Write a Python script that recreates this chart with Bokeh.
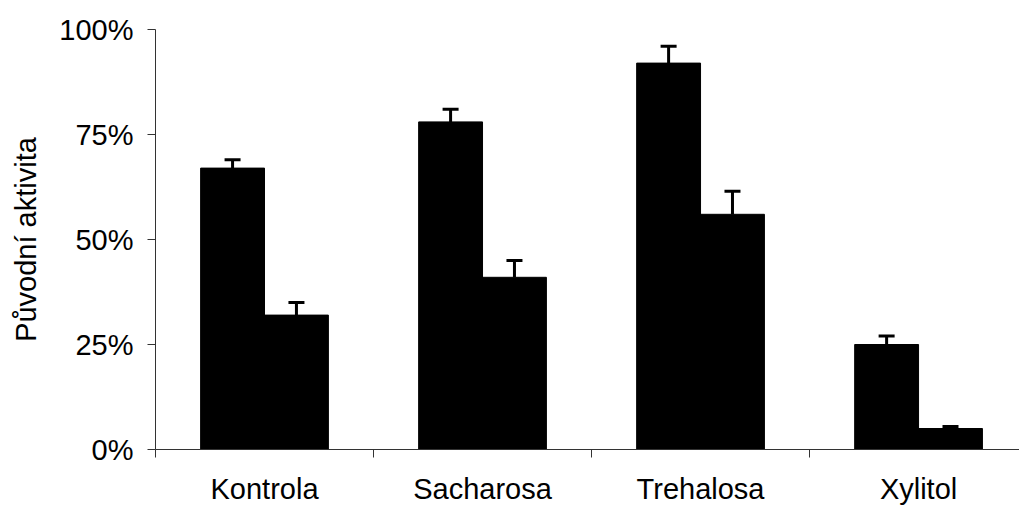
from bokeh.plotting import figure
from bokeh.models import ColumnDataSource, FixedTicker, Range1d, Whisker, TeeHead
from bokeh.embed import file_html
from bokeh.resources import INLINE

# Data
categories = ["Kontrola", "Sacharosa", "Trehalosa", "Xylitol"]
activity_a = [67, 78, 92, 25]      # first bar of each pair (%)
error_a = [2, 3, 4, 2]
activity_b = [32, 41, 56, 5]       # second bar of each pair (%)
error_b = [3, 4, 5.5, 0.5]
y_ticks = [0, 25, 50, 75, 100]
y_tick_labels = ["0%", "25%", "50%", "75%", "100%"]

FONT = "Liberation Sans"
FSIZE = "29px"
BAR_W = 0.293
centers = [i + 0.5 for i in range(len(categories))]

p = figure(width=1019, height=507, output_backend="svg", toolbar_location=None,
           x_range=Range1d(0, 3.963), y_range=Range1d(0, 100),
           min_border_left=155, min_border_right=0, min_border_top=29,
           min_border_bottom=58)
p.outline_line_color = None
p.grid.visible = False
p.background_fill_color = "white"
p.border_fill_color = "white"

for vals, errs, off in ((activity_a, error_a, -BAR_W / 2), (activity_b, error_b, BAR_W / 2)):
    src = ColumnDataSource(dict(
        x=[c + off for c in centers],
        top=vals,
        upper=[v + e for v, e in zip(vals, errs)],
    ))
    p.vbar(x="x", top="top", bottom=0, width=BAR_W, source=src,
           fill_color="black", line_color="black", line_width=1)
    p.add_layout(Whisker(source=src, base="x", lower="top", upper="upper",
                         line_color="black", line_width=3, lower_head=None,
                         upper_head=TeeHead(size=16, line_width=3, line_color="black")))

# y axis
ya = p.yaxis[0]
ya.ticker = FixedTicker(ticks=y_ticks)
ya.major_label_overrides = {t: s for t, s in zip(y_ticks, y_tick_labels)}
ya.major_tick_out = 8
ya.major_tick_in = 0
ya.minor_tick_line_color = None
ya.major_label_standoff = 14
ya.axis_line_color = "#333333"
ya.major_tick_line_color = "#333333"
ya.major_label_text_font = FONT
ya.major_label_text_font_size = FSIZE
ya.major_label_text_color = "black"
ya.axis_label = "Původní aktivita"
ya.axis_label_text_font = FONT
ya.axis_label_text_font_size = FSIZE
ya.axis_label_text_font_style = "normal"
ya.axis_label_text_color = "black"
ya.axis_label_standoff = 14

# x axis: labels at category centres, ticks at category boundaries
xa = p.xaxis[0]
xa.ticker = FixedTicker(ticks=centers, minor_ticks=[0, 1, 2, 3])
xa.major_label_overrides = {c: n for c, n in zip(centers, categories)}
xa.major_tick_line_color = None
xa.major_tick_out = 0
xa.major_tick_in = 0
xa.minor_tick_out = 8
xa.minor_tick_in = 0
xa.minor_tick_line_color = "#333333"
xa.axis_line_color = "#333333"
xa.major_label_standoff = 15
xa.major_label_text_font = FONT
xa.major_label_text_font_size = FSIZE
xa.major_label_text_color = "black"

with open("out.html", "w") as f:
    f.write(file_html(p, INLINE))
